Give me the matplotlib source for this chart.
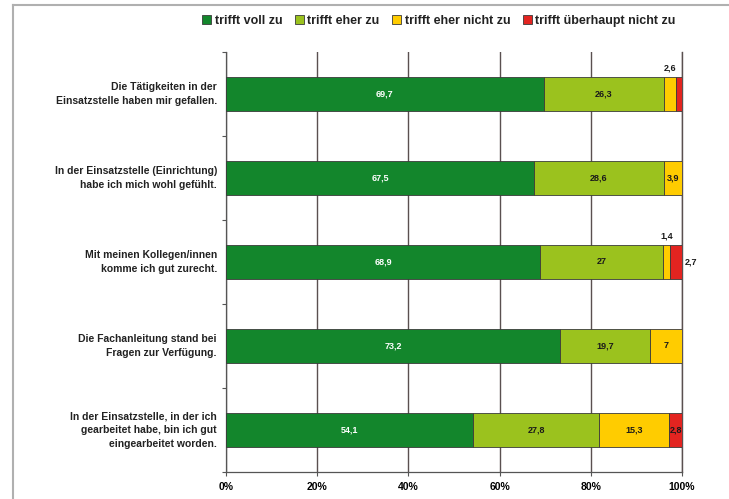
import matplotlib
matplotlib.use("Agg")
import matplotlib.pyplot as plt
from matplotlib.lines import Line2D
import numpy as np

categories = [
    "Die Tätigkeiten in der\nEinsatzstelle haben mir gefallen.",
    "In der Einsatzstelle (Einrichtung)\nhabe ich mich wohl gefühlt.",
    "Mit meinen Kollegen/innen\nkomme ich gut zurecht.",
    "Die Fachanleitung stand bei\nFragen zur Verfügung.",
    "In der Einsatzstelle, in der ich\ngearbeitet habe, bin ich gut\neingearbeitet worden.",
]
series_names = ["trifft voll zu", "trifft eher zu", "trifft eher nicht zu", "trifft überhaupt nicht zu"]
voll = [69.7, 67.5, 68.9, 73.2, 54.1]
eher = [26.3, 28.6, 27.0, 19.7, 27.8]
eher_nicht = [2.6, 3.9, 1.4, 7.0, 15.3]
ueberhaupt_nicht = [1.4, 0.0, 2.7, 0.0, 2.8]
xticklabels = ["0%", "20%", "40%", "60%", "80%", "100%"]

colors = ["#13862C", "#9BC21E", "#FFCC00", "#E32420"]
text_colors = ["white", "#1a1a1a", "#1a1a1a", "#1a1a1a"]

plt.rcParams['font.family'] = ['Liberation Sans Narrow', 'Liberation Sans', 'DejaVu Sans']

W, H = 729, 499
fig = plt.figure(figsize=(W / 100, H / 100), dpi=100)
ax = fig.add_axes([226 / W, 1 - 472 / H, (682 - 226) / W, (472 - 52) / H])

data = np.array([voll, eher, eher_nicht, ueberhaupt_nicht])
totals = data.sum(axis=0)
pct = data / totals * 100
n = len(categories)
y = np.arange(n)
left = np.zeros(n)
bar_h = 0.4
for s in range(4):
    ax.barh(y, pct[s], left=left, height=bar_h, color=colors[s],
            edgecolor="#3a3a3a", linewidth=0.6, label=series_names[s], zorder=3)
    for i in range(n):
        v = data[s, i]
        if v <= 0:
            continue
        lab = ("%g" % v).replace(".", ",")
        cx = left[i] + pct[s, i] / 2
        if pct[s, i] >= 2.8:
            ax.text(cx, y[i], lab, ha="center", va="center", fontsize=6.5,
                    fontweight="bold", color=text_colors[s], zorder=4)
        elif s == 2:
            ax.text(cx, y[i] - bar_h / 2 - 0.05, lab, ha="center", va="bottom",
                    fontsize=6.5, fontweight="bold", color="#1a1a1a", zorder=4)
        elif s == 3 and i != 0:
            ax.text(100.6, y[i], lab, ha="left", va="center", fontsize=6.5,
                    fontweight="bold", color="#1a1a1a", zorder=4, clip_on=False)
    left += pct[s]

ax.set_xlim(0, 100)
ax.set_ylim(n - 0.5, -0.5)
ax.set_xticks(np.linspace(0, 100, 6))
ax.set_xticklabels(xticklabels, fontsize=7.5, fontweight="bold")
ax.set_yticks(np.arange(-0.5, n, 1.0))
ax.set_yticklabels([])
ax.tick_params(axis="y", length=3, width=0.8, color="#555555", direction="out")
ax.tick_params(axis="x", length=3, width=0.8, color="#555555", direction="out", pad=4)
ax.xaxis.grid(True, color="#5a5050", linewidth=1.0, zorder=0)
ax.axvline(100, color="#5a5050", linewidth=1.0, zorder=0, clip_on=False)
ax.set_axisbelow(True)
for side in ["top", "right"]:
    ax.spines[side].set_visible(False)
for side in ["left", "bottom"]:
    ax.spines[side].set_color("#555555")
    ax.spines[side].set_linewidth(0.9)

for i, c in enumerate(categories):
    ax.text(-2.0, y[i], c, ha="right", va="center", fontsize=7.5, fontweight="bold",
            color="#222222", linespacing=1.45, transform=ax.transData, clip_on=False)

leg = fig.legend(loc="center", bbox_to_anchor=(439 / W, 1 - 21 / H), ncol=4, frameon=False,
                 handlelength=0.7, handleheight=0.7, handletextpad=0.3,
                 columnspacing=1.0, prop={"weight": "bold", "size": 9})
for t in leg.get_texts():
    t.set_color("#222222")

fig.add_artist(Line2D([13 / W, 13 / W], [0, 1 - 5 / H], transform=fig.transFigure,
                      color="#b0b0b0", linewidth=1.5))
fig.add_artist(Line2D([13 / W, 1], [1 - 5 / H, 1 - 5 / H], transform=fig.transFigure,
                      color="#b0b0b0", linewidth=1.5))

fig.savefig("out.png", dpi=100)
